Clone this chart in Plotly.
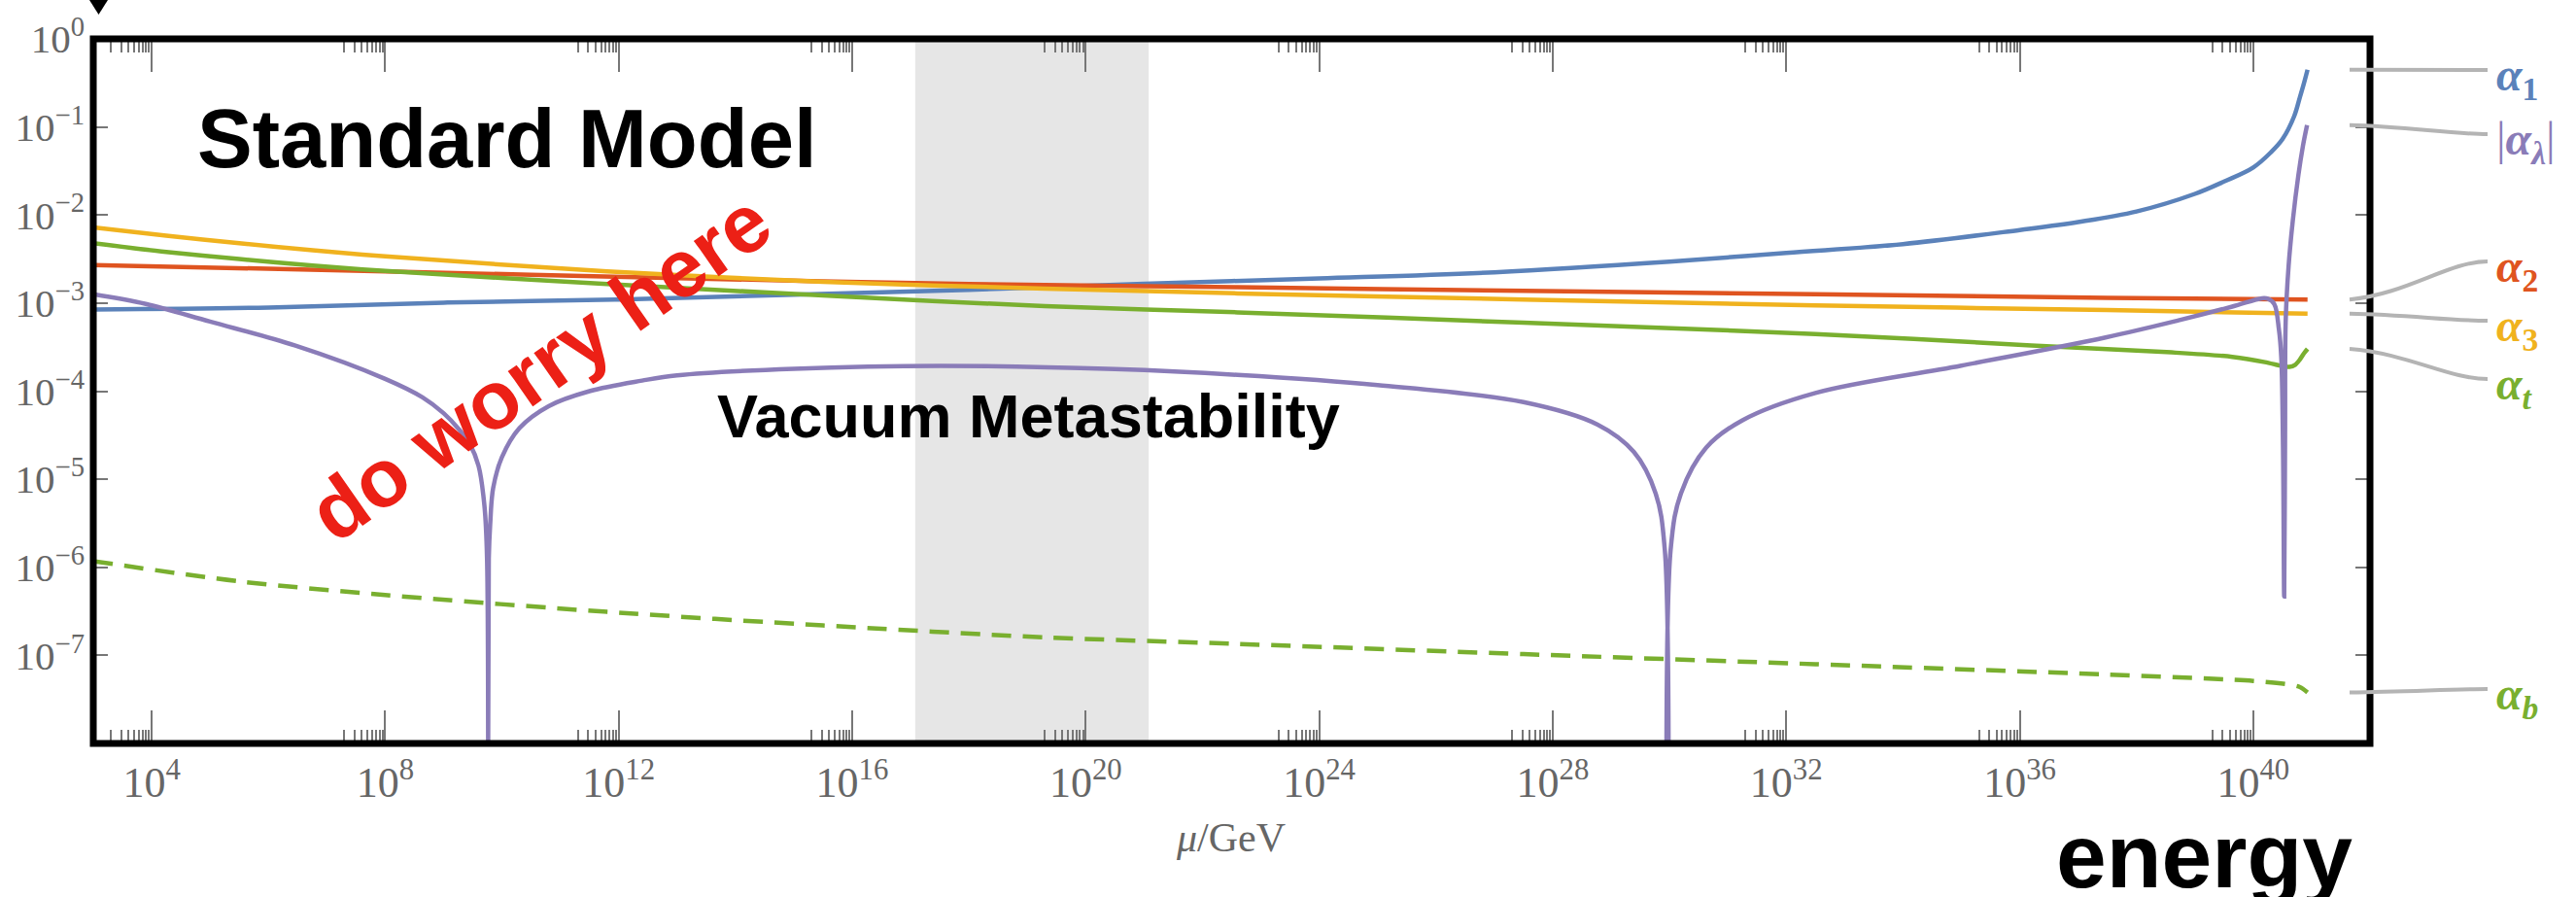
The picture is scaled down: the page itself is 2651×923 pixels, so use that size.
import plotly.graph_objects as go

# ---------------- data (log10 values) ----------------
# alpha_1 (U(1))
a1_lgmu = [3.0, 6.0, 9.0, 12.0, 15.0, 18.0, 21.0, 24.0, 27.0, 30.0, 32.0, 34.0, 36.0,
           37.0, 38.0, 39.0, 39.5, 40.0, 40.3, 40.5, 40.7, 40.8, 40.87, 40.93]
a1_lga = [-3.073, -3.05, -2.995, -2.96, -2.905, -2.85, -2.78, -2.72, -2.65, -2.53, -2.43, -2.33, -2.17,
          -2.08, -1.96, -1.76, -1.62, -1.46, -1.29, -1.14, -0.88, -0.66, -0.50, -0.35]

# alpha_2 (SU(2))
a2_lgmu = [3.0, 8.0, 13.0, 18.0, 22.6, 27.5, 32.5, 37.5, 40.93]
a2_lga = [-2.567, -2.64, -2.717, -2.784, -2.82, -2.861, -2.90, -2.94, -2.96]

# alpha_3 (SU(3))
a3_lgmu = [3.0, 4.25, 5.5, 6.76, 8.0, 11.8, 15.5, 19.3, 22.6, 27.5, 32.5, 37.5, 40.93]
a3_lga = [-2.14, -2.235, -2.32, -2.40, -2.47, -2.64, -2.76, -2.835, -2.89, -2.96, -3.025, -3.08, -3.12]

# alpha_t (top Yukawa)
at_lgmu = [3.0, 4.25, 5.5, 6.76, 8.0, 11.8, 15.5, 19.3, 22.6, 27.5, 32.5, 36.2, 38.6,
           39.64, 40.2, 40.47, 40.62, 40.72, 40.8, 40.87, 40.93]
at_lga = [-2.32, -2.42, -2.50, -2.575, -2.635, -2.784, -2.913, -3.035, -3.105, -3.222, -3.351, -3.48, -3.56,
          -3.61, -3.67, -3.712, -3.725, -3.70, -3.64, -3.57, -3.52]

# alpha_b (bottom Yukawa, dashed)
ab_lgmu = [3.0, 5.5, 8.0, 11.8, 15.5, 19.3, 22.6, 27.5, 32.5, 37.5, 40.0, 40.6, 40.8, 40.93]
ab_lga = [-5.93, -6.16, -6.315, -6.506, -6.66, -6.795, -6.87, -6.986, -7.10, -7.218, -7.29, -7.33, -7.36, -7.42]

# |alpha_lambda| (Higgs quartic)
lam_lgmu = [3.0, 3.9, 5.0, 6.45, 8.0, 8.64, 9.0, 9.26, 9.45, 9.6, 9.7, 9.745, 9.76, 9.775, 9.8, 9.85,
            10.0, 10.3, 10.8, 11.5, 12.4, 13.0, 15.0, 17.5, 20.5, 22.6, 25.0, 27.5, 28.77, 29.39,
            29.76, 29.92, 29.97, 30.02, 30.2, 30.63, 31.25, 32.5, 35.0, 37.47, 38.72, 39.64, 40.15,
            40.25, 40.36, 40.44, 40.48, 40.51, 40.53, 40.545, 40.556, 40.606, 40.678, 40.773, 40.85, 40.922]
lam_lga = [-2.90, -3.01, -3.21, -3.48, -3.86, -4.07, -4.25, -4.43, -4.6, -4.85, -5.3, -5.9, -12.0, -5.9, -5.5, -5.1,
           -4.75, -4.42, -4.17, -4.0, -3.88, -3.82, -3.745, -3.712, -3.75, -3.815, -3.93, -4.124, -4.38, -4.69,
           -5.155, -5.8, -12.0, -5.8, -5.155, -4.64, -4.33, -4.02, -3.71, -3.39, -3.196, -3.04, -2.945,
           -2.95, -3.01, -3.3, -3.61, -4.64, -6.33, -4.5, -3.2, -2.578, -2.062, -1.547, -1.22, -0.98]

# shaded band (GeV)
band_mu = [1.2e17, 1.2e21]

x_tick_exps = [4, 8, 12, 16, 20, 24, 28, 32, 36, 40]
y_tick_exps = [0, -1, -2, -3, -4, -5, -6, -7]

# ---------------- styling ----------------
W, H = 2651, 923
ML, MR, MT, MB = 96, 212, 40, 158
PW, PH = W - ML - MR, H - MT - MB
XR = [3, 42]
YR = [-8, 0]

C_A1 = "#5b82ba"
C_A2 = "#df5420"
C_A3 = "#f0b21e"
C_AT = "#79af2f"
C_LAM = "#8a7cb8"
GRAY_TXT = "#666666"
TICK_C = "#777777"


def pxx(X):
    return (X - ML) / PW


def pxy(Y):
    return (H - MB - Y) / PH


def lg_to_Y(v):
    return MT + (YR[1] - v) * PH / (YR[1] - YR[0])


fig = go.Figure()

series = [
    (a1_lgmu, a1_lga, C_A1, "solid", 1.0),
    (a2_lgmu, a2_lga, C_A2, "solid", 0.8),
    (a3_lgmu, a3_lga, C_A3, "solid", 0.8),
    (at_lgmu, at_lga, C_AT, "solid", 0.8),
    (ab_lgmu, ab_lga, C_AT, "20px,12px", 0.8),
    (lam_lgmu, lam_lga, C_LAM, "solid", 1.0),
]
for lgmu, lga, col, dash, sm in series:
    assert len(lgmu) == len(lga)
    fig.add_trace(go.Scatter(
        x=[10.0 ** v for v in lgmu], y=[10.0 ** v for v in lga], mode="lines",
        line=dict(color=col, width=4.5, dash=dash, shape="spline", smoothing=sm),
        showlegend=False, hoverinfo="skip"))

minor_vals = [float(k) * 10.0 ** (n - 1) for n in x_tick_exps for k in range(2, 10)]

fig.update_xaxes(
    type="log", range=XR, tickmode="array",
    tickvals=[10.0 ** k for k in x_tick_exps],
    ticktext=[f"10<sup>{k}</sup>" for k in x_tick_exps],
    ticks="inside", ticklen=34, tickwidth=2, tickcolor=TICK_C,
    mirror="ticks", showline=False, showgrid=False, zeroline=False,
    tickfont=dict(family="Liberation Serif", size=44, color=GRAY_TXT),
    minor=dict(tickmode="array", tickvals=minor_vals, ticks="inside", ticklen=14,
               tickwidth=2, tickcolor=TICK_C, showgrid=False),
    automargin=False, ticklabelstandoff=10,
)
fig.update_yaxes(
    type="log", range=YR, tickmode="array",
    tickvals=[10.0 ** k for k in y_tick_exps],
    ticktext=[f"10<sup>{'−' if k < 0 else ''}{abs(k)}</sup>" for k in y_tick_exps],
    ticks="inside", ticklen=15, tickwidth=2, tickcolor=TICK_C,
    mirror="ticks", showline=False, showgrid=False, zeroline=False,
    tickfont=dict(family="Liberation Serif", size=41, color=GRAY_TXT),
    automargin=False, ticklabelstandoff=8,
)

shapes = []
# shaded band
shapes.append(dict(type="rect", xref="x", yref="paper", x0=band_mu[0], x1=band_mu[1], y0=0, y1=1,
                   fillcolor="#e6e6e6", line=dict(width=0), layer="below"))
# frame
shapes.append(dict(type="rect", xref="paper", yref="paper", x0=0, x1=1, y0=0, y1=1,
                   line=dict(color="black", width=7), fillcolor="rgba(0,0,0,0)", layer="above"))
# little black triangle at top-left
shapes.append(dict(type="path", xref="paper", yref="paper",
                   path=f"M {pxx(92)},{pxy(0)} L {pxx(111)},{pxy(0)} L {pxx(101.5)},{pxy(15)} Z",
                   fillcolor="black", line=dict(width=0), layer="above"))

# leader lines to the labels: (end value of series, label y in px, label html, colour)
X0, X1 = 2418, 2560
labels = [
    (a1_lga[-1], 72, "<b><i>α</i><sub>1</sub></b>", C_A1),
    (lam_lga[-1], 138, "|<b><i>α</i><sub><i>λ</i></sub></b>|", C_LAM),
    (a2_lga[-1], 269, "<b><i>α</i><sub>2</sub></b>", C_A2),
    (a3_lga[-1], 330, "<b><i>α</i><sub>3</sub></b>", C_A3),
    (at_lga[-1], 390, "<b><i>α</i><sub><i>t</i></sub></b>", C_AT),
    (ab_lga[-1], 709, "<b><i>α</i><sub><i>b</i></sub></b>", C_AT),
]
annotations = []
for lg_end, Yl, txt, col in labels:
    Y0 = lg_to_Y(lg_end)
    path = (f"M {pxx(X0)},{pxy(Y0)} C {pxx(X0 + 60)},{pxy(Y0 + (Yl - Y0) * 0.15)} "
            f"{pxx(X1 - 40)},{pxy(Yl)} {pxx(X1)},{pxy(Yl)}")
    shapes.append(dict(type="path", xref="paper", yref="paper", path=path,
                       line=dict(color="#b4b4b4", width=4), layer="above"))
    annotations.append(dict(xref="paper", yref="paper", x=pxx(2567), y=pxy(Yl + 8), text=txt,
                            showarrow=False, xanchor="left", yanchor="middle",
                            font=dict(family="Liberation Serif", size=48, color=col)))

# text annotations
annotations += [
    dict(xref="paper", yref="paper", x=pxx(522), y=pxy(142), text="<b>Standard Model</b>",
         showarrow=False, xanchor="center", yanchor="middle",
         font=dict(family="Liberation Sans", size=85, color="black")),
    dict(xref="paper", yref="paper", x=pxx(1058), y=pxy(428), text="<b>Vacuum Metastability</b>",
         showarrow=False, xanchor="center", yanchor="middle",
         font=dict(family="Liberation Sans", size=63, color="black")),
    dict(xref="paper", yref="paper", x=pxx(555), y=pxy(378), text="<b>do worry here</b>",
         showarrow=False, xanchor="center", yanchor="middle", textangle=-35,
         font=dict(family="Liberation Sans", size=84, color="#ec2016")),
    dict(xref="paper", yref="paper", x=pxx(2268), y=pxy(881), text="<b>energy</b>",
         showarrow=False, xanchor="center", yanchor="middle",
         font=dict(family="Liberation Sans", size=93, color="black")),
    dict(xref="paper", yref="paper", x=pxx(1266), y=pxy(862), text="<i>μ</i>/GeV",
         showarrow=False, xanchor="center", yanchor="middle",
         font=dict(family="Liberation Serif", size=42, color=GRAY_TXT)),
]

fig.update_layout(
    template="none", width=W, height=H,
    margin=dict(l=ML, r=MR, t=MT, b=MB, pad=0),
    paper_bgcolor="white", plot_bgcolor="white", showlegend=False,
    shapes=shapes, annotations=annotations,
)

fig.write_html("out.html", config={"displayModeBar": False},
               post_script="document.body.style.margin='0';document.body.style.overflow='hidden';")
